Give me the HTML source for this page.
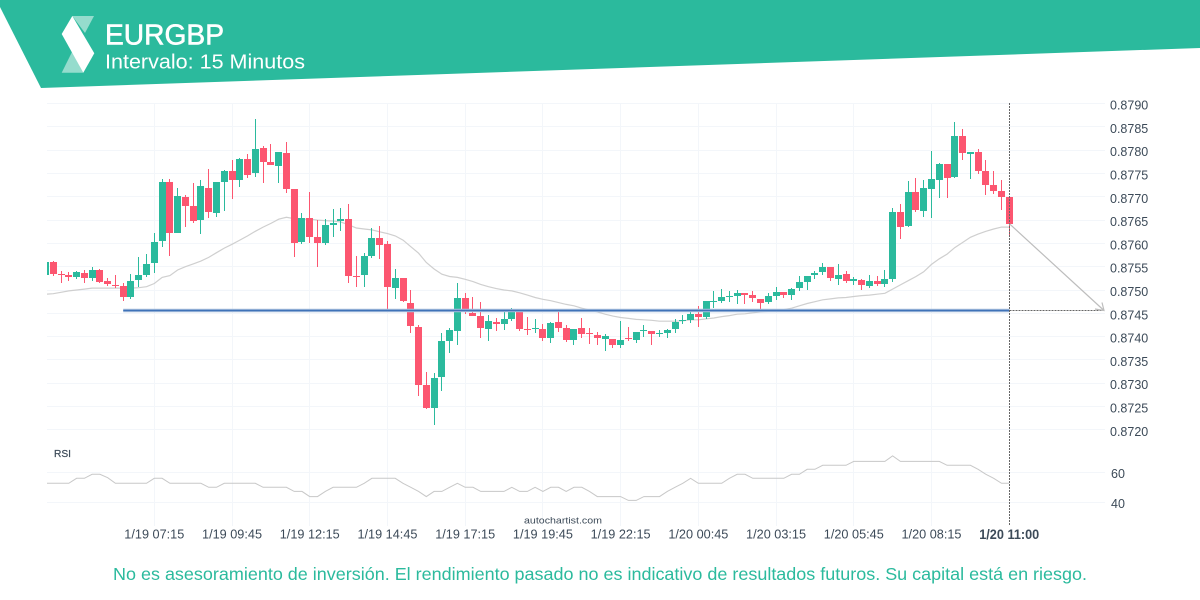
<!DOCTYPE html>
<html lang="es">
<head>
<meta charset="utf-8">
<title>EURGBP - Intervalo: 15 Minutos</title>
<style>
html,body{margin:0;padding:0;background:#fff;width:1200px;height:600px;overflow:hidden}
svg{display:block;font-family:"Liberation Sans",sans-serif}
</style>
</head>
<body>
<svg id="chart" width="1200" height="600" viewBox="0 0 1200 600" xmlns="http://www.w3.org/2000/svg">
  <defs><clipPath id="plot-clip"><rect x="47" y="100" width="1060" height="430"/></clipPath></defs>
  <polygon points="0,0 1200,0 1200,48 41,88 0,7" fill="#2bba9d"/>
  <g>
    <polygon points="72.3,16 94,16 85,33" fill="#95dccd"/>
    <polygon points="61.7,72.7 83.3,72.7 72,52" fill="#95dccd"/>
    <polygon points="72.3,16 61.7,34 83.3,72.7 94.3,53.3" fill="#fff"/>
  </g>
  <text x="105" y="44.5" font-size="29" fill="#fff" stroke="#fff" stroke-width="0.6" textLength="119" lengthAdjust="spacingAndGlyphs">EURGBP</text>
  <text x="105" y="68.5" font-size="20.5" fill="#fff" textLength="200" lengthAdjust="spacingAndGlyphs">Intervalo: 15 Minutos</text>

  <g id="grid"></g>
  <g id="plot" clip-path="url(#plot-clip)"></g>
  <g id="axes"></g>

  <text x="54" y="457" font-size="10" fill="#3c4a58" stroke="#3c4a58" stroke-width="0.2" textLength="17" lengthAdjust="spacingAndGlyphs">RSI</text>
  <text x="563" y="523.5" font-size="9.5" text-anchor="middle" fill="#3c4a58" textLength="78" lengthAdjust="spacingAndGlyphs">autochartist.com</text>
  <text x="113" y="580" font-size="17.5" fill="#2bba9d" textLength="974" lengthAdjust="spacingAndGlyphs">No es asesoramiento de inversión. El rendimiento pasado no es indicativo de resultados futuros. Su capital está en riesgo.</text>
</svg>
<script>
const opens=[.87532,.87560,.87534,.87532,.87528,.87536,.87526,.87543,.87519,.87511,.87509,.87485,.87521,.87532,.87558,.87605,.87732,.87622,.87700,.87680,.87650,.87719,.87665,.87732,.87755,.87736,.87781,.87751,.87805,.87775,.87766,.87794,.87717,.87603,.87655,.87614,.87601,.87640,.87648,.87652,.87530,.87532,.87573,.87612,.87599,.87504,.87526,.87472,.87421,.87296,.87247,.87313,.87391,.87412,.87483,.87451,.87444,.87416,.87431,.87427,.87438,.87453,.87416,.87416,.87416,.87397,.87431,.87418,.87393,.87418,.87408,.87403,.87395,.87395,.87382,.87397,.87393,.87412,.87412,.87406,.87408,.87416,.87433,.87436,.87449,.87442,.87474,.87476,.87485,.87487,.87494,.87489,.87481,.87474,.87487,.87496,.87489,.87504,.87517,.87532,.87539,.87549,.87524,.87534,.87519,.87522,.87509,.87519,.87513,.87524,.87667,.87637,.87710,.87670,.87717,.87736,.87770,.87742,.87830,.87792,.87796,.87755,.87725,.87712,.87700];
const highs=[.87560,.87562,.87540,.87538,.87540,.87542,.87549,.87544,.87525,.87532,.87514,.87534,.87570,.87577,.87622,.87738,.87738,.87718,.87704,.87729,.87736,.87759,.87732,.87758,.87778,.87783,.87791,.87868,.87810,.87813,.87796,.87817,.87717,.87665,.87710,.87650,.87652,.87673,.87677,.87684,.87574,.87579,.87632,.87637,.87606,.87544,.87526,.87501,.87424,.87325,.87322,.87407,.87418,.87516,.87493,.87486,.87474,.87446,.87439,.87454,.87461,.87459,.87443,.87437,.87427,.87431,.87455,.87424,.87416,.87440,.87418,.87410,.87406,.87395,.87433,.87421,.87410,.87425,.87412,.87414,.87417,.87437,.87446,.87453,.87466,.87476,.87498,.87502,.87498,.87500,.87494,.87498,.87481,.87494,.87506,.87496,.87504,.87530,.87530,.87541,.87558,.87549,.87556,.87540,.87528,.87523,.87532,.87530,.87543,.87675,.87684,.87734,.87740,.87735,.87798,.87772,.87770,.87861,.87846,.87796,.87803,.87780,.87755,.87735,.87700];
const lows=[.87532,.87529,.87516,.87520,.87524,.87516,.87520,.87515,.87509,.87504,.87477,.87480,.87507,.87527,.87537,.87593,.87572,.87622,.87636,.87643,.87621,.87655,.87657,.87670,.87696,.87720,.87740,.87742,.87729,.87768,.87730,.87709,.87570,.87599,.87601,.87550,.87596,.87613,.87626,.87516,.87506,.87506,.87568,.87566,.87457,.87481,.87474,.87407,.87273,.87245,.87211,.87284,.87364,.87383,.87449,.87444,.87398,.87390,.87411,.87414,.87433,.87412,.87403,.87407,.87391,.87386,.87410,.87389,.87381,.87396,.87385,.87383,.87370,.87376,.87376,.87390,.87387,.87400,.87383,.87400,.87398,.87407,.87426,.87430,.87421,.87437,.87462,.87472,.87474,.87469,.87471,.87474,.87459,.87469,.87479,.87483,.87478,.87498,.87500,.87524,.87532,.87519,.87510,.87515,.87511,.87501,.87504,.87509,.87507,.87517,.87609,.87635,.87667,.87657,.87655,.87698,.87698,.87740,.87779,.87739,.87750,.87704,.87706,.87672,.87613];
const closes=[.87560,.87534,.87532,.87528,.87539,.87526,.87543,.87517,.87513,.87509,.87485,.87519,.87532,.87556,.87603,.87732,.87622,.87702,.87680,.87648,.87723,.87667,.87732,.87755,.87736,.87781,.87747,.87803,.87775,.87768,.87796,.87717,.87601,.87655,.87614,.87601,.87640,.87644,.87652,.87530,.87528,.87573,.87612,.87597,.87506,.87526,.87476,.87423,.87296,.87247,.87311,.87391,.87414,.87483,.87455,.87444,.87418,.87434,.87426,.87438,.87453,.87416,.87414,.87418,.87397,.87429,.87418,.87393,.87416,.87406,.87406,.87397,.87401,.87382,.87393,.87395,.87410,.87414,.87406,.87408,.87414,.87431,.87436,.87449,.87442,.87476,.87476,.87485,.87487,.87494,.87489,.87483,.87472,.87487,.87496,.87489,.87502,.87517,.87530,.87537,.87549,.87526,.87532,.87519,.87524,.87511,.87519,.87513,.87524,.87667,.87635,.87710,.87672,.87719,.87738,.87770,.87740,.87830,.87794,.87796,.87755,.87725,.87712,.87700,.87642];
const maValues=[.87491,.87492,.87495,.87498,.87500,.87502,.87504,.87504,.87504,.87504,.87504,.87504,.87505,.87507,.87514,.87527,.87531,.87543,.87550,.87556,.87562,.87570,.87580,.87590,.87598,.87607,.87616,.87626,.87635,.87643,.87652,.87656,.87653,.87652,.87652,.87650,.87649,.87648,.87646,.87640,.87633,.87631,.87629,.87625,.87621,.87616,.87607,.87593,.87579,.87559,.87545,.87534,.87529,.87527,.87523,.87518,.87512,.87507,.87503,.87500,.87498,.87494,.87489,.87484,.87480,.87477,.87473,.87469,.87466,.87461,.87457,.87453,.87448,.87444,.87441,.87439,.87437,.87436,.87435,.87433,.87433,.87433,.87434,.87436,.87436,.87438,.87440,.87443,.87445,.87448,.87449,.87451,.87453,.87454,.87456,.87458,.87461,.87466,.87471,.87475,.87479,.87481,.87483,.87484,.87486,.87488,.87489,.87491,.87493,.87502,.87511,.87520,.87529,.87539,.87555,.87567,.87577,.87591,.87602,.87613,.87620,.87626,.87631,.87635,.87635];
const rsiValues=[52.7,52.7,52.7,52.7,56,56,58.7,58.7,56.4,52.7,52.7,52.7,52.7,52.7,56,56,52.7,52.7,52.7,52.7,52.7,50,50,52.7,52.7,52.7,52.7,52.7,50,50,50,50,47.3,47.3,43.8,43.8,47.3,50,50,50,50,52.7,56,56,56,56,52.7,50,47.3,43.8,47.3,47.3,50,52.7,50,50,47.3,47.3,47.3,47.3,50,47.3,47.3,50,47.3,50,50,47.3,50,50,47.3,43.8,43.8,43.8,43.8,41.3,41.3,43.8,43.8,43.8,47.3,50,52.7,56,52.7,52.7,52.7,52.7,56,58.7,58.7,56,56,56,56,56,58.7,58.7,62,62,64.7,64.7,64.7,64.7,67.3,67.3,67.3,67.3,67.3,70.9,67.3,67.3,67.3,67.3,67.3,67.3,64.7,64.7,64.7,64.7,62,58.7,56,52.7,52.7];
const priceTicks=[0.8790,0.8785,0.8780,0.8775,0.8770,0.8765,0.8760,0.8755,0.8750,0.8745,0.8740,0.8735,0.8730,0.8725,0.8720];
const rsiTicks=[60,40];
const timeLabels=["1/19 07:15","1/19 09:45","1/19 12:15","1/19 14:45","1/19 17:15","1/19 19:45","1/19 22:15","1/20 00:45","1/20 03:15","1/20 05:45","1/20 08:15"];
const timeTickIndexes=[14,24,34,44,54,64,74,84,94,104,114];
const lastLabel="1/20 11:00";
const targetLevel=0.87456;
const levelStartIndex=10;

const NS='http://www.w3.org/2000/svg';
const GREEN='#2bba9d',RED='#fc5670',LABEL='#3c4a58',GRID='#f3f6fa';
const xAt=i=>45.5+7.772*i;
const yPrice=p=>313.3-(p-0.8745)*46600;
const yRsi=r=>472.3-(r-60)*1.5;
const crisp=v=>Math.floor(v)+0.5;
function mk(tag,parent,attrs,txt){
  const el=document.createElementNS(NS,tag);
  for(const k in attrs)el.setAttribute(k,attrs[k]);
  if(txt!==undefined)el.textContent=txt;
  parent.appendChild(el);
  return el;
}
const gridG=document.getElementById('grid');
const plot=document.getElementById('plot');
const axes=document.getElementById('axes');
let el;

priceTicks.forEach(p=>{
  const y=yPrice(p);
  el=mk('line',gridG,{x1:47,x2:1105,y1:crisp(y),y2:crisp(y),stroke:GRID,'stroke-width':1});
  
  
  el=mk('text',axes,{x:1110,y:y+6,'font-size':12.5,fill:LABEL},p.toFixed(4));
  
  
});
rsiTicks.forEach(r=>{
  const y=yRsi(r);
  el=mk('line',gridG,{x1:47,x2:1105,y1:crisp(y),y2:crisp(y),stroke:GRID,'stroke-width':1});
  
  
  el=mk('text',axes,{x:1111,y:y+5.5,'font-size':12.5,fill:LABEL},String(r));
  
  
});
timeTickIndexes.forEach((idx,n)=>{
  const x=xAt(idx);
  el=mk('line',gridG,{x1:crisp(x),x2:crisp(x),y1:103,y2:526,stroke:GRID,'stroke-width':1});
  
  
  el=mk('text',axes,{x:x,y:538.5,'font-size':12.5,fill:LABEL,'text-anchor':'middle',textLength:60,lengthAdjust:'spacingAndGlyphs'},timeLabels[n]);
  
  
});
el=mk('text',axes,{x:xAt(opens.length-1),y:539,'font-size':14,'font-weight':'bold',fill:LABEL,'text-anchor':'middle',textLength:60,lengthAdjust:'spacingAndGlyphs'},lastLabel);



el=mk('path',plot,{d:maValues.map((v,i)=>(i?'L':'M')+xAt(i).toFixed(1)+' '+yPrice(v).toFixed(1)).join(' '),fill:'none',stroke:'#cfcfcf','stroke-width':1.2});



opens.forEach((o,i)=>{
  const c=closes[i],col=c>=o?GREEN:RED,x=Math.floor(xAt(i));
  const g=mk('g',plot,{});
  
  
  const hi=Math.round(yPrice(highs[i])),lo=Math.round(yPrice(lows[i]));
  el=mk('rect',g,{x:x,y:hi,width:1,height:Math.max(1,lo-hi),fill:col});
  
  
  const top=Math.round(yPrice(Math.max(o,c))),bot=Math.round(yPrice(Math.min(o,c)));
  el=mk('rect',g,{x:x-3,y:top,width:7,height:Math.max(1,bot-top),fill:col});
  
  
});

const lastX=crisp(xAt(opens.length-1));
const levelY=crisp(yPrice(targetLevel));
el=mk('line',plot,{x1:xAt(levelStartIndex),x2:lastX,y1:levelY,y2:levelY,stroke:'#a9c0de','stroke-width':3.4});


el=mk('line',plot,{x1:xAt(levelStartIndex),x2:lastX,y1:levelY,y2:levelY,stroke:'#3f72b8','stroke-width':1.6});


el=mk('line',plot,{x1:lastX,x2:1105,y1:levelY,y2:levelY,stroke:'#666','stroke-width':1,'stroke-dasharray':'2 1'});


el=mk('line',plot,{x1:lastX,x2:lastX,y1:103,y2:526,stroke:'#666','stroke-width':1,'stroke-dasharray':'2 1'});



const endX=1104;
const startY=yPrice(closes[closes.length-1]);
el=mk('line',plot,{x1:lastX,y1:startY,x2:endX,y2:levelY,stroke:'#bdbdbd','stroke-width':1.2});


el=mk('path',plot,{d:`M${endX-2} ${levelY-8} L${endX} ${levelY} L${endX-9} ${levelY-1.5}`,fill:'none',stroke:'#bdbdbd','stroke-width':1.2});



el=mk('path',plot,{d:rsiValues.map((v,i)=>(i?'L':'M')+xAt(i).toFixed(1)+' '+yRsi(v).toFixed(1)).join(' '),fill:'none',stroke:'#c8c8c8','stroke-width':1});


</script>
</body>
</html>
